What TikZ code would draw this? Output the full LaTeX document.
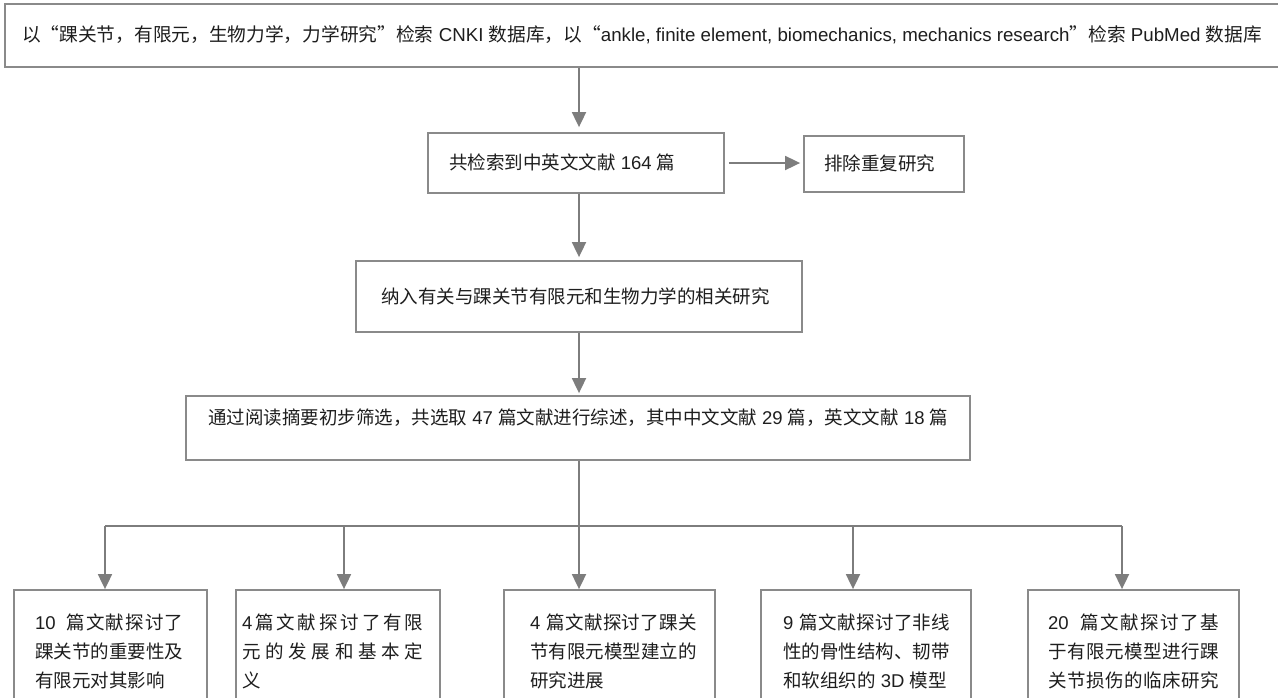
\documentclass[tikz,border=0pt]{standalone}
\usepackage{fontspec}
\setmainfont{Noto Sans CJK SC}
\newfontfamily\enfont{Liberation Sans}
\newcommand\enx[1]{{\enfont #1}}
\usetikzlibrary{arrows.meta}
\definecolor{bordergray}{RGB}{138,138,138}
\definecolor{linegray}{RGB}{125,125,125}
\definecolor{txt}{RGB}{30,30,30}
\begin{document}
\begin{tikzpicture}[x=1pt,y=-1pt,
  font=\fontsize{18.5}{29}\selectfont, text=txt,
  box/.style={draw=bordergray, line width=1.8pt, inner sep=0pt},
  ln/.style={draw=linegray, line width=1.8pt},
  arr/.style={ln, -{Triangle[length=15pt,width=14pt]}},
  lbl/.style={anchor=west, inner sep=0pt},
  blbl/.style={anchor=base west, inner sep=0pt}]
\useasboundingbox[fill=white] (0,0) rectangle (1278,697);

% boxes
\node[box, minimum width=1295pt, minimum height=63pt] (b1) at (652.5,35.5) {};
\node[box, minimum width=296pt, minimum height=60pt] (b2) at (576,163) {};
\node[box, minimum width=160pt, minimum height=56pt] (bx) at (884,164) {};
\node[box, minimum width=446pt, minimum height=71pt] (b3) at (579,296.5) {};
\node[box, minimum width=784pt, minimum height=64pt] (b4) at (578,428) {};
\node[box, minimum width=193pt, minimum height=130pt] (ba) at (110.5,655) {};
\node[box, minimum width=204pt, minimum height=130pt] (bb) at (338,655) {};
\node[box, minimum width=211pt, minimum height=130pt] (bc) at (609.5,655) {};
\node[box, minimum width=210pt, minimum height=130pt] (bd) at (866,655) {};
\node[box, minimum width=211pt, minimum height=130pt] (be) at (1133.5,655) {};

% texts
\node[lbl, font=\fontsize{18.7}{29}\selectfont] (t1) at (22,35) {以“踝关节，有限元，生物力学，力学研究”检索\enx{ CNKI }数据库，以“\enx{ankle, finite element, biomechanics, mechanics research}”检索\enx{ PubMed }数据库};
\node[lbl] (t2) at (449,162) {共检索到中英文文献\enx{ 164 }篇};
\node[lbl] (tx) at (824,163) {排除重复研究};
\node[lbl] (t3) at (381,296) {纳入有关与踝关节有限元和生物力学的相关研究};
\node[lbl] (t4) at (208,418) {通过阅读摘要初步筛选，共选取\enx{ 47 }篇文献进行综述，其中中文文献\enx{ 29 }篇，英文文献\enx{ 18 }篇};

\node[blbl] (ta) at (35,629) {\vtop{\baselineskip=29pt
  \hbox to 148pt{\enx{10}\hskip 10pt plus 1fil 篇\hfil 文\hfil 献\hfil 探\hfil 讨\hfil 了}
  \hbox{踝关节的重要性及}
  \hbox{有限元对其影响}}};
\node[blbl] (tb) at (242,629) {\vtop{\baselineskip=29pt
  \hbox to 181pt{\enx{4}\hfil 篇\hfil 文\hfil 献\hfil 探\hfil 讨\hfil 了\hfil 有\hfil 限}
  \hbox to 181pt{元\hfil 的\hfil 发\hfil 展\hfil 和\hfil 基\hfil 本\hfil 定}
  \hbox{义}}};
\node[blbl] (tc) at (530,629) {\vtop{\baselineskip=29pt
  \hbox to 166.5pt{\enx{4}\hskip 6pt plus 1fil 篇\hfil 文\hfil 献\hfil 探\hfil 讨\hfil 了\hfil 踝\hfil 关}
  \hbox{节有限元模型建立的}
  \hbox{研究进展}}};
\node[blbl] (td) at (783,629) {\vtop{\baselineskip=29pt
  \hbox to 167pt{\enx{9}\hskip 6pt plus 1fil 篇\hfil 文\hfil 献\hfil 探\hfil 讨\hfil 了\hfil 非\hfil 线}
  \hbox{性的骨性结构、韧带}
  \hbox{和软组织的\enx{ 3D }模型}}};
\node[blbl] (te) at (1048,629) {\vtop{\baselineskip=29pt
  \hbox to 171pt{\enx{20}\hskip 10pt plus 1fil 篇\hfil 文\hfil 献\hfil 探\hfil 讨\hfil 了\hfil 基}
  \hbox to 171pt{于\hfil 有\hfil 限\hfil 元\hfil 模\hfil 型\hfil 进\hfil 行\hfil 踝}
  \hbox to 171pt{关\hfil 节\hfil 损\hfil 伤\hfil 的\hfil 临\hfil 床\hfil 研\hfil 究}}};

% connectors
\coordinate (sp) at (579,0);
\coordinate (jn) at (579,526);
\coordinate (k1) at (105,526);
\coordinate (k2) at (344,526);
\coordinate (k3) at (579,526);
\coordinate (k4) at (853,526);
\coordinate (k5) at (1122,526);

\draw[arr, shorten >=5pt] (sp |- b1.south) -- (sp |- b2.north);
\draw[arr, shorten <=4pt, shorten >=3pt] (b2.east) -- (b2.east -| bx.west);
\draw[arr, shorten >=3pt] (sp |- b2.south) -- (sp |- b3.north);
\draw[arr, shorten >=2pt] (sp |- b3.south) -- (sp |- b4.north);
\draw[ln] (sp |- b4.south) -- (jn);
\draw[ln] (k1) -- (k5);
\draw[arr] (k1) -- (k1 |- ba.north);
\draw[arr] (k2) -- (k2 |- bb.north);
\draw[arr] (k3) -- (k3 |- bc.north);
\draw[arr] (k4) -- (k4 |- bd.north);
\draw[arr] (k5) -- (k5 |- be.north);
\end{tikzpicture}
\end{document}
